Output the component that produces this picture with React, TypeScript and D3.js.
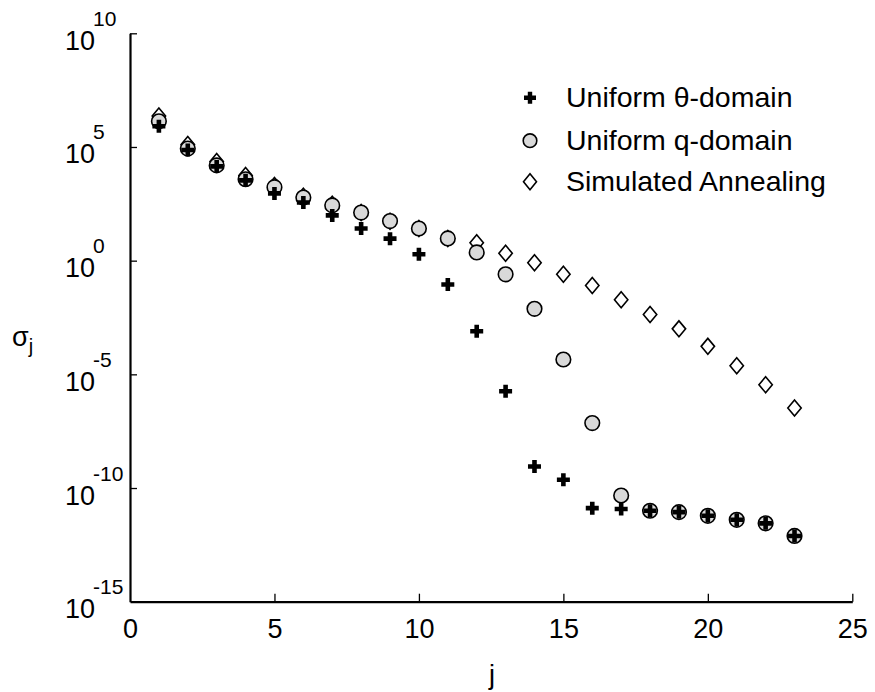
import React, { useRef, useEffect } from "react";
import { select, scaleLinear, scaleLog, axisBottom, axisLeft } from "d3";

const jIndex = [1, 2, 3, 4, 5, 6, 7, 8, 9, 10, 11, 12, 13, 14, 15, 16, 17, 18, 19, 20, 21, 22, 23];

// singular values
const uniformTheta = [
  8.1e5, 7.4e4, 1.4e4, 3.4e3, 9.1e2, 3.6e2, 98, 26, 9.3, 1.9, 8.9e-2, 7.8e-4,
  1.8e-6, 8.9e-10, 2.3e-10, 1.3e-11, 1.2e-11, 1.0e-11, 8.7e-12, 6.0e-12, 4.0e-12,
  2.8e-12, 7.8e-13,
];
const uniformQ = [
  1.35e6, 8.5e4, 1.55e4, 3.8e3, 1.7e3, 6.0e2, 2.7e2, 1.3e2, 55, 26, 9.5, 2.3,
  0.25, 7.6e-3, 4.5e-5, 7.2e-8, 4.7e-11, 1.0e-11, 8.7e-12, 6.0e-12, 4.0e-12,
  2.8e-12, 7.8e-13,
];
const simAnnealing = [
  2.3e6, 1.3e5, 2.3e4, 5.6e3, 2.0e3, 6.8e2, 3.0e2, 1.3e2, 54, 26, 9.5, 6.2, 2.1,
  0.81, 0.25, 8.1e-2, 1.9e-2, 4.3e-3, 1.0e-3, 1.7e-4, 2.4e-5, 3.5e-6, 3.3e-7,
];

const seriesNames = ["Uniform θ-domain", "Uniform q-domain", "Simulated Annealing"];
const xTicks = [0, 5, 10, 15, 20, 25];
const yExponents = [10, 5, 0, -5, -10, -15];

const font = "'Liberation Sans', Arial, sans-serif";

const crossPath = (s: number, t: number) =>
  `M${-t},${-s}H${t}V${-t}H${s}V${t}H${t}V${s}H${-t}V${t}H${-s}V${-t}H${-t}Z`;
const diamondPath = (w: number, h: number) => `M0,${-h}L${w},0L0,${h}L${-w},0Z`;

const App: React.FC = () => {
  const width = 875;
  const height = 692;
  const svgRef = useRef<SVGSVGElement>(null);

  useEffect(() => {
    const svg = select(svgRef.current);
    svg.selectAll("*").remove();

    const x = scaleLinear().domain([0, 25]).range([130, 852.3]);
    const y = scaleLog().domain([1e-15, 1e10]).range([601.7, 33.3]);

    // x axis
    const gx = svg
      .append("g")
      .attr("transform", `translate(0,${y(1e-15)})`)
      .call(
        axisBottom(x)
          .tickValues(xTicks)
          .tickSizeInner(-8)
          .tickSizeOuter(0)
          .tickPadding(17)
          .tickFormat((d) => String(d))
      );
    gx.select(".domain").attr("stroke-width", 2.2);
    gx.selectAll(".tick line").attr("stroke-width", 1.3);
    gx.selectAll(".tick text")
      .attr("font-size", 27)
      .attr("font-family", font)
      .attr("fill", "#000");
    gx.selectAll(".tick").filter((d) => d === 0).select("line").remove();

    // y axis
    const gy = svg
      .append("g")
      .attr("transform", `translate(${x(0)},0)`)
      .call(
        axisLeft(y)
          .tickValues(yExponents.map((e) => Math.pow(10, e)))
          .tickSizeInner(-7)
          .tickSizeOuter(0)
          .tickFormat(() => "")
      );
    gy.select(".domain").attr("stroke-width", 2.2);
    gy.selectAll(".tick line").attr("stroke-width", 1.3);
    gy.selectAll(".tick").filter((d) => d === 1e-15).select("line").remove();

    const yl = svg.append("g").attr("font-family", font).attr("fill", "#000");
    yExponents.forEach((e) => {
      const ty = y(Math.pow(10, e));
      yl.append("text")
        .attr("x", 95)
        .attr("y", ty + 16.5)
        .attr("text-anchor", "end")
        .attr("font-size", 27)
        .text("10");
      yl.append("text")
        .attr("x", 93)
        .attr("y", ty - 7.5)
        .attr("font-size", 21)
        .text(String(e));
    });

    // axis titles
    svg
      .append("text")
      .attr("x", 492)
      .attr("y", 684)
      .attr("text-anchor", "middle")
      .attr("font-family", font)
      .attr("font-size", 27)
      .text("j");
    const sig = svg
      .append("text")
      .attr("x", 12)
      .attr("y", 346)
      .attr("font-family", font)
      .attr("font-size", 27);
    sig.append("tspan").text("σ");
    sig.append("tspan").attr("font-size", 20).attr("dy", 7).text("j");

    // markers: diamonds below, circles, then crosses on top
    const pts = svg.append("g");
    pts
      .selectAll("path.sa")
      .data(simAnnealing)
      .join("path")
      .attr("class", "sa")
      .attr("d", diamondPath(6.7, 8))
      .attr("transform", (d, i) => `translate(${x(jIndex[i])},${y(d)})`)
      .attr("fill", "#fff")
      .attr("stroke", "#000")
      .attr("stroke-width", 1.6);
    pts
      .selectAll("circle.uq")
      .data(uniformQ)
      .join("circle")
      .attr("class", "uq")
      .attr("cx", (d, i) => x(jIndex[i]))
      .attr("cy", (d) => y(d))
      .attr("r", 7.3)
      .attr("fill", "#d9d9d9")
      .attr("stroke", "#000")
      .attr("stroke-width", 1.6);
    pts
      .selectAll("path.ut")
      .data(uniformTheta)
      .join("path")
      .attr("class", "ut")
      .attr("d", crossPath(6.5, 2.3))
      .attr("transform", (d, i) => `translate(${x(jIndex[i])},${y(d)})`)
      .attr("fill", "#000");

    // legend
    const legend = svg.append("g");
    const rows = [97.7, 140.7, 181.7];
    legend.append("path").attr("d", crossPath(6, 2.2)).attr("transform", `translate(530,${rows[0]})`);
    legend
      .append("circle")
      .attr("cx", 530)
      .attr("cy", rows[1])
      .attr("r", 6.8)
      .attr("fill", "#d9d9d9")
      .attr("stroke", "#000")
      .attr("stroke-width", 1.6);
    legend
      .append("path")
      .attr("d", diamondPath(6.5, 8))
      .attr("transform", `translate(530,${rows[2]})`)
      .attr("fill", "#fff")
      .attr("stroke", "#000")
      .attr("stroke-width", 1.6);
    legend
      .selectAll("text")
      .data(seriesNames)
      .join("text")
      .attr("x", 566)
      .attr("y", (d, i) => rows[i] + 9)
      .attr("font-family", font)
      .attr("font-size", 28.5)
      .attr("fill", "#000")
      .text((d) => d);
  }, []);

  return (
    <svg
      ref={svgRef}
      width={width}
      height={height}
      style={{ position: "absolute", left: 0, top: 0, background: "#fff" }}
    ></svg>
  );
};

export default App;
